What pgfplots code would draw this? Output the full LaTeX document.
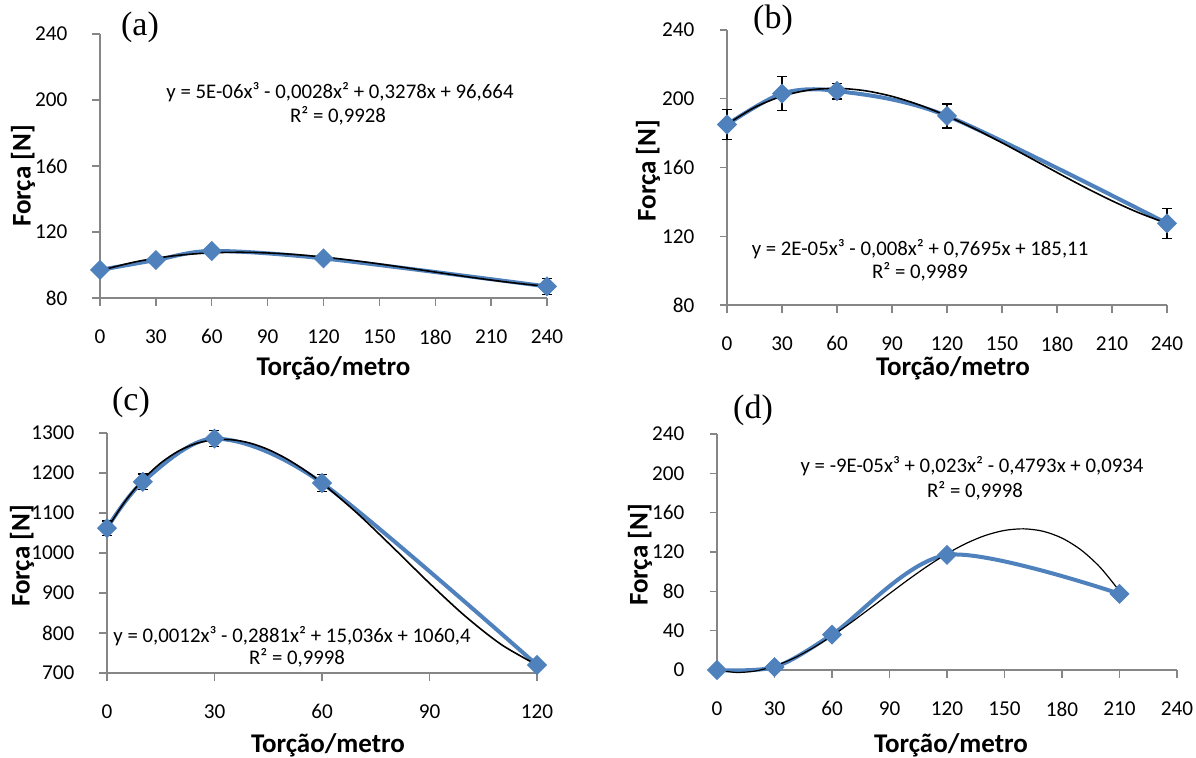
\documentclass[border=0pt]{standalone}
\usepackage{fontspec}
\setmainfont{Carlito}
\newfontfamily\timesfont{Liberation Serif}
\usepackage{pgfplots}
\pgfplotsset{compat=1.18}

\definecolor{excelblue}{HTML}{4F81BD}
\definecolor{axisgray}{HTML}{868686}

\pgfplotsset{
  panel/.style n args={4}{
    scale only axis, anchor=south west,
    axis lines=left, axis line style={-, axisgray, line width=0.7pt},
    tick align=outside, major tick length=3.75pt,
    tick style={axisgray, line width=0.7pt},
    ticklabel style={font=\fontsize{10.6}{12}\selectfont, text=black},
    yticklabel style={xshift=-9pt},
    xticklabel style={yshift=-8.5pt},
    /pgf/number format/assume math mode=true,
    /pgf/number format/set thousands separator={},
    label style={font=\bfseries\fontsize{13.5}{15}\selectfont},
    xlabel=Torção/metro, ylabel=Força {[N]},
    xlabel style={at={([xshift=#3, yshift=-#1]axis description cs:0.5,0)}, anchor=center},
    ylabel style={at={([xshift=-#2, yshift=#4]axis description cs:0,0.5)}, anchor=center},
    clip=false,
  },
  dados/.style={excelblue, line width=2pt, smooth,
    mark=square*, mark size=3.3pt,
    mark options={rotate=45, fill=excelblue, draw=excelblue, line width=0.5pt},
    error bars/.cd, y dir=both, y explicit,
    error bar style={black, line width=0.6pt},
    error mark=-,
    error mark options={black, line width=0.6pt, mark size=2.5pt, rotate=90}},
  tendencia/.style={black, line width=0.8pt, smooth, no markers},
}

\begin{document}
\begin{tikzpicture}
\useasboundingbox (0,0) rectangle (598pt,378.5pt);

% (a)
\begin{axis}[panel={35pt}{38.5pt}{5pt}{-5pt}, at={(50pt,229.5pt)}, width=223.5pt, height=132pt,
  xmin=0, xmax=240, xtick={0,30,...,240}, ymin=80, ymax=240, ytick={80,120,...,240}]
\addplot[dados] coordinates {
(0,97) +- (0,2)
(30,103) +- (0,2)
(60,108.5) +- (0,2)
(120,104) +- (0,2)
(240,87) +- (0,5)
};
\addplot[tendencia] coordinates {
(0,96.66) (20,102.14) (40,105.63) (60,107.39) (80,107.67) (100,106.72) (120,104.8)
(140,102.16) (160,99.05) (180,95.72) (200,92.43) (220,89.45) (240,87.0)
};
\end{axis}

% (b)
\begin{axis}[panel={31.5pt}{39.5pt}{3pt}{-1.5pt}, at={(363.5pt,226pt)}, width=220pt, height=137.5pt,
  xmin=0, xmax=240, xtick={0,30,...,240}, ymin=80, ymax=240, ytick={80,120,...,240}]
\addplot[dados] coordinates {
(0,185) +- (0,8.8)
(30,203) +- (0,10)
(60,204.5) +- (0,4.6)
(120,190) +- (0,7)
(240,127.5) +- (0,8.6)
};
\addplot[tendencia] coordinates {
(0,185.11) (15,194.92) (30,201.47) (45,205.08) (60,206.06) (75,204.72) (90,201.4)
(105,196.38) (120,190.0) (135,182.56) (150,174.39) (165,165.8) (180,157.09)
(195,148.59) (210,140.63) (225,133.48) (240,127.5)
};
\end{axis}

% (c)
\begin{axis}[panel={36pt}{42.5pt}{3pt}{-1.5pt}, at={(53.5pt,42pt)}, width=215pt, height=120pt,
  xmin=0, xmax=120, xtick={0,30,...,120}, ymin=700, ymax=1300, ytick={700,800,...,1300}]
\addplot[dados] coordinates {
(0,1062) +- (0,18)
(10,1178) +- (0,19.5)
(30,1286) +- (0,20)
(60,1175) +- (0,22)
(120,720) +- (0,5)
};
\addplot[tendencia] coordinates {
(0,1060.4) (5,1128.5) (10,1183.1) (15,1224.9) (20,1255.0) (25,1274.1) (30,1283.2)
(35,1283.0) (40,1274.6) (45,1258.7) (50,1236.2) (55,1208.1) (60,1175.0) (70,1098.0)
(80,1012.2) (90,924.4) (100,841.9) (110,771.4) (120,720.0)
};
\end{axis}

% (d)
\begin{axis}[panel={37.5pt}{38.5pt}{2pt}{-1.5pt}, at={(358.5pt,43.5pt)}, width=230pt, height=118pt,
  xmin=0, xmax=240, xtick={0,30,...,240}, ymin=0, ymax=240, ytick={0,40,...,240}]
\addplot[dados] coordinates {
(0,0) +- (0,1)
(30,3) +- (0,1)
(60,36) +- (0,2)
(120,117) +- (0,3)
(210,77.5) +- (0,2)
};
\addplot[tendencia, line width=0.6pt] coordinates {
(0,0.09) (10,-2.49) (20,-1.02) (30,3.98) (40,11.96) (50,22.37) (60,34.69) (70,48.37)
(80,62.87) (90,77.64) (100,92.16) (110,105.88) (120,118.25) (130,128.75) (140,136.83)
(150,141.94) (160,143.56) (170,141.14) (180,134.14) (190,122.01) (200,104.23) (210,80.25)
};
\end{axis}

% panel letters
\begin{scope}[every node/.style={font=\timesfont\fontsize{17}{19}\selectfont}]
\node at (70pt,365pt) {(a)};
\node at (386.5pt,368.5pt) {(b)};
\node at (65.5pt,177.5pt) {(c)};
\node at (376.5pt,173.5pt) {(d)};
\end{scope}

% trendline equations
\begin{scope}[every node/.style={font=\fontsize{10.4}{12}\selectfont, inner sep=0pt}]
\node at (170pt,332.5pt) {y = 5E-06x³ - 0,0028x² + 0,3278x + 96,664};
\node at (169pt,320.5pt) {R² = 0,9928};
\node at (460pt,254pt) {y = 2E-05x³ - 0,008x² + 0,7695x + 185,11};
\node at (460pt,242.5pt) {R² = 0,9989};
\node at (146pt,60.5pt) {y = 0,0012x³ - 0,2881x² + 15,036x + 1060,4};
\node at (148.5pt,49.5pt) {R² = 0,9998};
\node at (486pt,145.5pt) {y = -9E-05x³ + 0,023x² - 0,4793x + 0,0934};
\node at (487.5pt,133pt) {R² = 0,9998};
\end{scope}
\end{tikzpicture}
\end{document}
